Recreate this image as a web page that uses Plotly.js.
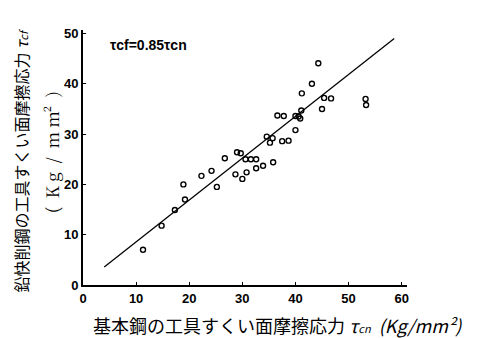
<!DOCTYPE html>
<html><head><meta charset="utf-8">
<script src="https://cdn.plot.ly/plotly-3.0.1.min.js"></script>
<style>html,body{margin:0;padding:0;background:#fff}#c{width:487px;height:338px}</style>
</head><body><div id="c"></div>
<script>
const tauCn = [11.3,14.8,17.3,18.9,19.2,22.3,24.2,25.2,26.7,28.7,29.0,29.7,30.0,30.6,30.8,31.6,32.6,32.6,33.9,34.6,35.2,35.7,35.8,36.6,37.5,37.8,38.7,40.0,40.0,40.6,40.9,41.1,41.2,43.1,44.3,45.0,45.4,46.7,53.2,53.3];
const tauCf = [7.0,11.8,14.9,20.0,17.0,21.7,22.7,19.5,25.2,22.0,26.4,26.2,21.1,25.0,22.4,25.0,25.0,23.2,23.7,29.5,28.3,29.2,24.4,33.7,28.6,33.6,28.7,33.6,30.8,33.5,33.1,34.7,38.1,40.0,44.1,35.0,37.2,37.1,37.0,35.8];
const lineX = [4.0, 58.6];
const lineY = [3.6, 49.0];
const xTicks = [0,10,20,30,40,50,60];
const yTicks = [0,10,20,30,40,50];

const tickFont = {family:'Liberation Sans, Arial, sans-serif', size:13, color:'#000', weight:'bold'};
const traces = [
  {x:lineX, y:lineY, mode:'lines', line:{color:'#000', width:1.3}, hoverinfo:'skip'},
  {x:tauCn, y:tauCf, mode:'markers', marker:{symbol:'circle-open', size:5, color:'#000', line:{width:1.4}}}
];
const layout = {
  width:487, height:338, showlegend:false,
  paper_bgcolor:'#fff', plot_bgcolor:'#fff',
  margin:{l:83, r:80, t:30, b:53},
  xaxis:{range:[0,61], tickvals:xTicks, ticks:'inside', ticklen:3, tickcolor:'#000',
    showline:true, linecolor:'#000', linewidth:2, showgrid:false, zeroline:false,
    tickfont:tickFont},
  yaxis:{range:[0,50.7], tickvals:yTicks, ticks:'inside', ticklen:3, tickcolor:'#000',
    showline:true, linecolor:'#000', linewidth:2, showgrid:false, zeroline:false,
    tickfont:tickFont},
  annotations:[
    {xref:'x', yref:'y', x:4.7, y:47.7, xanchor:'left', yanchor:'middle', showarrow:false,
     text:'τcf=0.85τcn', font:{family:'Liberation Sans, Arial, sans-serif', size:14, color:'#000', weight:'bold'}},
    {xref:'paper', yref:'paper', x:0.6, y:-0.157, xanchor:'center', yanchor:'middle', showarrow:false,
     text:'基本鋼の工具すくい面摩擦応力 <i>τ<span style="font-size:11px">cn</span></i>  <i>(Kg/mm²)</i>',
     font:{family:'Noto Sans CJK JP', size:18, color:'#000'}},
    {xref:'paper', yref:'paper', x:-0.19, y:0.49, xanchor:'center', yanchor:'middle', showarrow:false, textangle:-90,
     text:'鉛快削鋼の工具すくい面摩擦応力 <i>τ<span style="font-size:11px">cf</span></i>',
     font:{family:'Noto Sans CJK JP', size:16, color:'#000'}},
    {xref:'paper', yref:'paper', x:-0.096, y:0.52, xanchor:'center', yanchor:'middle', showarrow:false, textangle:-90,
     text:'(  K g  /  m m²  )',
     font:{family:'Noto Serif CJK JP, Noto Sans CJK JP', size:17, color:'#000'}}
  ]
};
Plotly.newPlot('c', traces, layout, {displayModeBar:false, staticPlot:true});
</script></body></html>
